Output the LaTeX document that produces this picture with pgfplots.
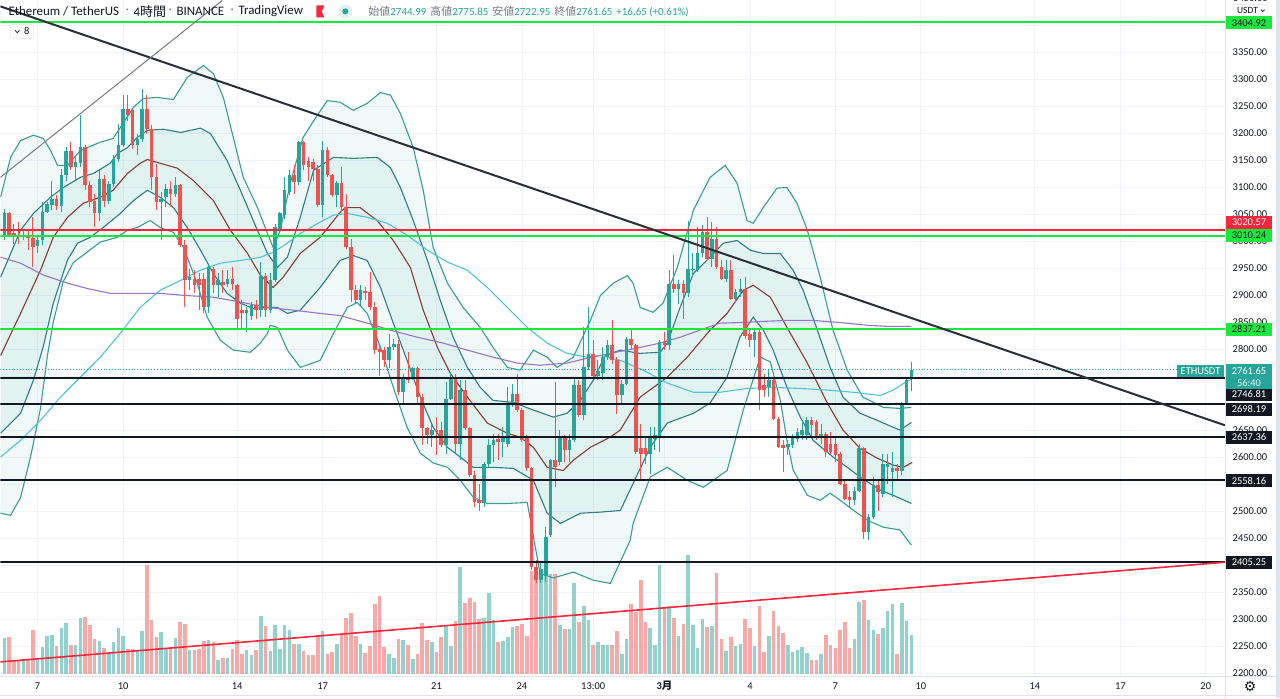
\documentclass[border=0pt]{standalone}
\usepackage{fontspec}
\setmainfont{Carlito}
\newfontfamily\jp{Noto Sans CJK JP}
\newfontfamily\djv{DejaVu Sans}
\usepackage{pgfplots}
\pgfplotsset{compat=1.18}
\usepackage{pgfplotstable}
\usepgfplotslibrary{fillbetween}

\definecolor{upc}{HTML}{26A69A}
\definecolor{dnc}{HTML}{EF5350}
\definecolor{upv}{HTML}{92D2CC}
\definecolor{dnv}{HTML}{F7A9A8}
\definecolor{olc}{HTML}{3A9D96}
\definecolor{ilc}{HTML}{2E7D87}
\definecolor{midc}{HTML}{873B33}
\definecolor{cyanc}{HTML}{4FC3DC}
\definecolor{purc}{HTML}{9575CD}
\definecolor{grn}{HTML}{1AE83F}
\definecolor{redl}{HTML}{F7263B}
\definecolor{blk}{HTML}{131722}
\definecolor{trend}{HTML}{2A2E39}
\definecolor{greyl}{HTML}{787B86}
\definecolor{gridc}{HTML}{F0F3FA}
\definecolor{sepc}{HTML}{E0E3EB}
\definecolor{txt}{HTML}{131722}
\definecolor{lbl}{HTML}{787B86}

% candles: index, open, high, low, close, volume
\pgfplotstableread{
i o h l c v
0 3011 3060 3001 3051 36.7
4 3009 3023 3001 3012 15
7 2990 3007 2977 3001 15.7
8 3001 3072 2992 3054 27
9 3054 3072 3051 3068 38
10 3066 3112 3057 3078 39.7
12 3064 3134 3054 3122 46
13 3122 3174 3112 3167 51.7
15 3138 3156 3112 3146 29
16 3144 3233 3137 3174 56
20 3051 3134 3038 3115 33
22 3075 3112 3069 3106 20.7
23 3106 3159 3100 3152 32.7
24 3152 3217 3146 3177 46
25 3177 3270 3174 3245 38
28 3177 3199 3159 3189 24
29 3189 3282 3183 3245 43
33 3072 3091 3001 3078 42
34 3081 3106 3063 3097 25.7
36 3088 3119 3081 3103 36.7
39 2927 2949 2909 2933 24
43 2878 2958 2866 2952 34
45 2918 2940 2896 2927 14.7
47 2921 2946 2915 2930 16
51 2866 2878 2832 2872 24
52 2862 2887 2853 2881 19
54 2872 2961 2859 2936 58
56 2872 2940 2866 2928 23
57 2927 3032 2924 3026 49
58 3023 3054 3014 3051 25.3
59 3048 3119 3041 3094 49
60 3091 3131 3085 3122 44.7
62 3109 3186 3103 3183 30
67 3066 3186 3044 3168 43
70 3085 3112 3063 3107 30
75 2890 2918 2878 2909 30.7
81 2779 2828 2764 2804 20.7
82 2804 2819 2798 2810 16.7
84 2721 2754 2696 2745 34
86 2745 2767 2742 2764 15.3
90 2640 2662 2619 2651 32
93 2622 2739 2606 2708 48.7
94 2708 2758 2705 2748 28.7
96 2625 2742 2594 2724 107
101 2514 2591 2508 2588 56.3
102 2588 2634 2582 2622 81.3
103 2622 2643 2591 2631 54
105 2628 2656 2600 2637 33.3
106 2625 2730 2619 2696 37.3
107 2696 2736 2693 2717 47.3
113 2372 2405 2366 2393 100.7
114 2380 2471 2369 2452 100.7
115 2455 2597 2452 2594 100.7
117 2590 2650 2585 2637 49
119 2613 2643 2591 2631 45.7
120 2631 2745 2628 2733 91.3
122 2677 2841 2668 2767 68.3
123 2767 2878 2761 2791 54
125 2751 2780 2742 2760 32
126 2755 2804 2742 2785 29
127 2785 2816 2779 2807 29
130 2714 2742 2699 2736 20.7
131 2736 2822 2733 2819 35.3
136 2606 2656 2569 2637 46.7
137 2634 2656 2613 2640 29.3
138 2637 2816 2609 2813 109
140 2807 2946 2798 2921 68
142 2912 2927 2884 2921 38
144 2903 3038 2896 2949 119
145 2946 2977 2933 2949 49
146 2946 3026 2943 2977 26.3
147 2977 3029 2970 3017 55.7
149 2967 3035 2952 3004 48
152 2930 2964 2924 2946 23.3
154 2893 2912 2887 2906 28.7
155 2906 2930 2896 2912 30.7
158 2816 2838 2785 2832 28.7
161 2730 2761 2711 2742 38
165 2619 2631 2603 2625 29
166 2622 2643 2616 2637 22.7
167 2634 2653 2628 2647 24.7
168 2640 2668 2631 2650 27
169 2640 2674 2631 2668 21.3
172 2637 2662 2625 2643 20
179 2520 2545 2511 2538 35
180 2538 2625 2535 2616 72
182 2461 2495 2446 2489 54
183 2489 2563 2486 2548 44.7
185 2532 2606 2526 2588 46
186 2582 2606 2551 2588 63.7
187 2572 2609 2526 2579 70.3
189 2575 2702 2566 2699 71
190 2699 2748 2696 2742 53.3
191 2744.99 2775.85 2722.95 2761.65 39.7
}\candUp

\pgfplotstableread{
i o h l c v
1 3051 3054 3007 3011 37
2 3014 3032 2995 3009 14
3 3012 3035 2995 3009 14
5 3011 3023 2983 3006 14
6 3006 3044 2952 2989 44.7
11 3078 3085 3057 3064 28
14 3167 3183 3131 3138 29
17 3174 3177 3094 3103 57
18 3103 3112 3063 3072 49
19 3075 3088 3026 3051 35.7
21 3115 3122 3063 3075 26
26 3245 3270 3223 3233 25.7
27 3242 3245 3171 3177 25.7
30 3245 3270 3199 3208 109
31 3208 3214 3094 3119 54
32 3119 3143 3057 3072 37
35 3097 3112 3063 3088 27
37 3103 3106 2989 2992 52
38 2992 3001 2878 2927 50
40 2930 2946 2903 2918 24
41 2930 2940 2872 2918 25.7
42 2930 2940 2866 2878 33
44 2949 2952 2903 2918 32
46 2924 2946 2903 2918 16
48 2930 2952 2909 2921 25.7
49 2918 2921 2838 2856 34
50 2872 2890 2838 2866 20
53 2881 2890 2856 2872 24
55 2936 2940 2859 2872 48
61 3122 3140 3088 3109 30.7
63 3183 3186 3131 3140 23
64 3149 3156 3112 3137 19
65 3146 3152 3112 3134 19
66 3134 3140 3063 3066 39.3
68 3168 3174 3119 3122 20
69 3122 3125 3081 3085 22
71 3107 3137 3054 3063 40
72 3063 3088 2986 2989 56.7
73 2989 3004 2887 2909 61.3
74 2909 2918 2884 2890 38.7
76 2907 2915 2890 2903 21.3
77 2906 2943 2872 2878 28
78 2878 2887 2791 2798 70.7
79 2801 2810 2751 2795 78
80 2798 2804 2767 2779 27
83 2810 2816 2714 2721 35
85 2748 2795 2738 2742 29
87 2764 2767 2699 2711 20.7
88 2711 2717 2622 2653 51.7
89 2653 2656 2625 2640 34.7
91 2651 2674 2603 2647 22.3
92 2650 2665 2619 2622 37.3
95 2748 2754 2606 2625 53.3
97 2724 2742 2650 2653 71.7
98 2653 2656 2563 2566 76.7
99 2566 2575 2508 2517 72
100 2520 2551 2501 2514 55.7
104 2634 2643 2594 2628 32.3
108 2717 2754 2684 2687 48
109 2687 2690 2628 2631 50.7
110 2637 2640 2575 2579 38
111 2579 2582 2390 2397 103.3
112 2397 2409 2366 2372 105
116 2594 2739 2545 2582 100
118 2637 2640 2591 2613 45.7
121 2733 2742 2674 2677 52.3
124 2791 2816 2748 2751 29
128 2807 2853 2773 2779 29.3
129 2779 2785 2680 2714 43.3
132 2819 2835 2798 2807 70
133 2807 2810 2606 2609 62
134 2616 2662 2557 2606 94.7
135 2616 2637 2588 2606 52.7
139 2813 2832 2798 2807 67.3
141 2921 2974 2903 2912 56.7
143 2921 2927 2856 2903 50.7
148 3017 3044 2964 2967 47.3
150 3004 3026 2949 2952 101.7
151 2952 2964 2927 2930 35
153 2946 2964 2890 2893 37.3
156 2912 2933 2819 2825 55.7
157 2828 2835 2804 2816 46.7
159 2832 2835 2687 2724 68.3
160 2733 2754 2711 2724 22.3
162 2742 2748 2668 2671 63.7
163 2671 2674 2616 2619 48.3
164 2622 2631 2572 2616 41.3
170 2668 2674 2637 2659 14.7
171 2665 2668 2631 2637 14.7
173 2643 2646 2600 2609 39
174 2625 2646 2606 2609 29.3
175 2625 2637 2591 2603 26.3
176 2606 2609 2548 2551 44.7
177 2551 2557 2520 2523 52.7
178 2526 2538 2508 2520 26.3
181 2616 2619 2449 2461 74
184 2548 2557 2501 2535 40.7
188 2579 2588 2557 2574 20.7
}\candDn

% Bollinger outer upper
\pgfplotstableread{
x y
-0.8 3081
1.3 3155
3.4 3186
6.1 3196
8.2 3190
9.7 3168
11.2 3140
13.3 3140
16.0 3168
20.2 3183
22.9 3190
24.4 3210
27.2 3248
29.3 3264
32.2 3266
35.6 3262
38.5 3303
41.9 3325
44.0 3310
46.1 3266
48.2 3192
50.3 3118
53.3 3062
55.4 3014
56.6 2988
58.1 3020
60.2 3107
62.9 3192
65.9 3233
68.0 3260
70.7 3257
73.5 3242
76.4 3255
79.2 3275
81.3 3270
83.4 3236
86.1 3173
88.2 3094
90.3 2988
93.3 2922
96.6 2877
100.2 2840
102.9 2803
105.9 2766
108.6 2761
111.4 2798
114.3 2785
116.4 2766
119.8 2785
123.4 2853
125.5 2899
128.2 2922
131.2 2936
132.4 2922
133.9 2877
136.6 2868
138.7 2885
141.7 2951
145.1 3057
148.6 3118
151.8 3140
154.3 3107
156.4 3038
157.7 3033
159.8 3062
162.7 3098
164.8 3099
166.9 3070
169.1 3020
171.8 2933
174.5 2835
177.5 2761
180.8 2711
185.1 2692
188.6 2690
191.0 2692
}\tOU

% inner upper
\pgfplotstableread{
x y
-0.8 2933
3.4 3020
6.1 3051
9.7 3081
12.4 3099
16.0 3118
18.7 3125
22.3 3144
23.8 3162
25.9 3173
28.0 3192
30.1 3205
33.5 3207
37.1 3201
41.3 3209
43.4 3199
46.9 3149
49.7 3094
52.4 3038
55.4 2977
57.5 2951
59.6 2970
62.3 3044
65.1 3131
69.3 3155
73.5 3153
78.5 3155
81.3 3136
83.4 3099
86.1 3038
89.1 2964
91.8 2890
94.5 2822
97.5 2766
100.2 2729
102.9 2705
107.2 2701
111.4 2687
115.6 2674
118.5 2681
121.3 2705
124.0 2742
126.5 2788
129.7 2798
133.9 2792
138.1 2794
139.6 2811
142.3 2877
145.1 2940
148.6 2970
151.4 2996
154.3 3001
157.1 2983
159.8 2977
163.4 2977
166.1 2946
168.2 2909
171.2 2835
173.9 2766
176.6 2711
180.2 2681
183.8 2668
187.2 2655
188.6 2650
191.0 2664
}\tIU

% middle line
\pgfplotstableread{
x y
-0.8 2788
3.4 2866
7.6 2946
10.3 3007
13.3 3044
16.6 3070
20.2 3081
22.9 3094
25.9 3125
28.6 3144
30.1 3151
32.8 3144
36.4 3135
39.8 3112
44.0 3075
47.6 3020
51.2 2977
53.9 2937
56.6 2914
58.7 2933
62.3 2977
66.5 3007
70.7 3053
71.8 3062
74.9 3062
78.5 3038
81.9 3001
85.5 2951
88.2 2872
91.2 2803
93.9 2755
97.5 2711
101.7 2663
105.9 2644
108.6 2637
111.4 2618
114.3 2581
117.7 2575
119.8 2594
123.4 2618
127.6 2637
129.7 2650
133.9 2711
139.6 2748
143.8 2785
148.6 2835
152.2 2866
155.6 2909
157.7 2918
161.3 2896
164.8 2840
169.1 2774
173.3 2700
176.6 2650
180.2 2616
183.8 2598
187.2 2585
189.3 2581
191.2 2590
}\tMID

% inner lower
\pgfplotstableread{
x y
-0.8 2644
3.4 2681
6.1 2742
8.2 2805
10.3 2885
13.3 2965
15.4 2996
18.1 3007
20.8 3025
24.4 3051
27.2 3075
30.1 3094
32.8 3081
35.6 3062
38.5 3025
41.3 2983
44.0 2940
46.9 2903
49.7 2885
52.4 2875
55.4 2877
57.5 2877
59.6 2866
62.3 2872
66.5 2914
70.7 2964
73.5 2973
76.4 2964
79.2 2914
81.9 2848
84.8 2779
87.6 2711
90.3 2655
93.3 2618
96.0 2600
98.7 2581
102.9 2581
107.2 2579
111.4 2557
114.3 2496
117.1 2477
121.3 2496
125.5 2498
129.7 2501
132.4 2551
136.0 2618
139.6 2663
145.1 2681
148.6 2700
152.2 2748
154.9 2822
157.7 2859
159.8 2835
161.9 2798
164.8 2729
167.6 2674
170.3 2631
174.5 2600
177.5 2581
180.2 2563
184.4 2539
188.0 2526
191.0 2514
}\tIL

% outer lower
\pgfplotstableread{
x y
-0.8 2496
1.3 2492
3.4 2525
5.5 2600
7.6 2690
9.1 2790
10.3 2850
12.4 2925
14.5 2960
17.5 2980
20.2 2998
23.8 3007
25.9 3020
28.0 3025
30.7 3038
32.8 3025
35.6 3016
37.7 2988
40.6 2922
42.7 2859
45.5 2816
48.2 2798
51.8 2794
53.9 2811
55.4 2829
56.0 2844
57.5 2840
59.6 2798
62.3 2766
66.5 2779
69.3 2829
72.2 2877
74.3 2886
76.4 2866
79.2 2803
81.9 2729
84.8 2655
87.6 2607
90.3 2589
93.3 2581
96.0 2557
98.7 2526
101.7 2514
105.9 2514
110.1 2516
112.8 2385
115.6 2376
119.8 2387
124.0 2372
127.6 2366
131.8 2446
132.4 2477
136.0 2563
139.6 2581
143.8 2557
147.2 2544
152.2 2575
155.6 2687
159.2 2785
161.3 2776
163.4 2705
164.8 2631
166.1 2576
169.1 2529
171.8 2520
173.9 2533
176.0 2520
178.7 2502
181.7 2483
185.1 2470
188.6 2465
191.0 2437
}\tOL

% cyan moving average
\pgfplotstableread{
x y
-0.8 2600
3.4 2631
7.6 2668
11.8 2711
16.0 2748
20.2 2785
24.4 2829
28.6 2877
32.8 2909
37.1 2927
41.3 2946
45.5 2959
49.7 2964
53.9 2970
56.6 2979
59.6 2996
62.3 3014
66.5 3035
69.3 3048
72.2 3051
76.4 3044
80.6 3033
84.8 3011
89.1 2983
93.3 2961
97.5 2946
101.7 2914
105.9 2877
110.1 2840
114.3 2811
118.5 2792
122.7 2785
125.5 2788
129.7 2779
134.5 2761
139.6 2737
145.1 2720
150.7 2720
156.4 2727
161.9 2729
167.6 2727
173.3 2724
178.7 2720
184.4 2714
187.2 2724
190.0 2740
191.0 2744
}\tC

% purple moving average
\pgfplotstableread{
x y
-0.8 2970
3.4 2959
8.2 2937
13.3 2922
17.5 2912
22.3 2903
32.8 2903
38.5 2899
44.0 2896
49.7 2887
55.4 2877
60.8 2872
66.5 2866
70.7 2862
76.4 2848
81.3 2835
86.9 2822
92.4 2811
97.5 2798
102.9 2785
108.0 2774
112.8 2770
118.5 2774
122.7 2783
127.6 2792
133.9 2803
138.1 2811
142.3 2822
146.5 2835
150.7 2848
155.0 2849
159.2 2851
164.8 2853
170.3 2853
176.0 2849
181.7 2844
185.9 2842
191.0 2842
}\tP

\newcommand\pbox[4]{%
  \fill[#2] (1226,{698-#1-6.5}) rectangle (1272,{698-#1+6.5});
  \node[text=#3, font=\fontsize{10.5}{12}\selectfont, inner sep=0pt] at (1249,{698-#1}) {#4};}

\begin{document}
\begin{tikzpicture}[x=1bp,y=1bp]

\begin{axis}[name=P, scale only axis, width=1225bp, height=676bp,
  xmin=-0.8421, xmax=257.0526, ymin=2194.2, ymax=3445.6,
  clip bounding box=upper bound,
  axis line style={draw=none}, tick style={draw=none},
  xtick={7,25,49,67,91,109,124,139,157,175,193,217,235,253},
  xticklabels={7,10,14,17,21,24,13:00,{\bfseries 3\jp 月},4,7,10,14,17,20},
  ytick={2200,2250,2300,2350,2450,2500,2600,2650,2800,2850,2900,2950,3000,3050,3100,3150,3200,3250,3300,3350},
  extra y ticks={2400,2550,2700,2750,3400},
  extra y tick style={grid=major, yticklabel={}},
  grid=major, major grid style={draw=gridc, line width=0.8bp},
  yticklabel pos=right,
  yticklabel style={anchor=west, inner sep=0pt, xshift=7.5bp, font=\fontsize{10.5}{12}\selectfont, text=txt},
  xticklabel style={anchor=center, inner sep=0pt, yshift=-10bp, font=\fontsize{10.5}{12}\selectfont, text=txt},
  yticklabel={\pgfmathprintnumber[fixed, fixed zerofill, precision=2, 1000 sep={}, assume math mode=true]{\tick}},
]
% volume bars in the bottom band (1 volume unit drawn as 1 px above the baseline)
\addplot[draw=none, mark=none, forget plot, error bars/.cd, y dir=both, y explicit, error mark=none,
  error bar style={draw=upv, line width=3.6bp}]
  table[x=i, y expr={2197.9+0.9256*\thisrow{v}}, y error expr={0.9256*\thisrow{v}}]{\candUp};
\addplot[draw=none, mark=none, forget plot, error bars/.cd, y dir=both, y explicit, error mark=none,
  error bar style={draw=dnv, line width=3.6bp}]
  table[x=i, y expr={2197.9+0.9256*\thisrow{v}}, y error expr={0.9256*\thisrow{v}}]{\candDn};

% Bollinger fills
\addplot[draw=none, name path=ou, forget plot] table{\tOU};
\addplot[draw=none, name path=ol, forget plot] table{\tOL};
\addplot[draw=none, name path=iu, forget plot] table{\tIU};
\addplot[draw=none, name path=il, forget plot] table{\tIL};
\addplot[fill=upc, fill opacity=0.07, draw=none] fill between[of=ou and ol];
\addplot[fill=upc, fill opacity=0.07, draw=none] fill between[of=iu and il];

\addplot[olc, line width=1.1bp] table{\tOU};
\addplot[olc, line width=1.1bp] table{\tOL};
\addplot[ilc, line width=1.1bp] table{\tIU};
\addplot[ilc, line width=1.1bp] table{\tIL};
\addplot[midc, line width=1.1bp] table{\tMID};
\addplot[cyanc, line width=1.1bp] table{\tC};
\addplot[purc, line width=1.1bp] table{\tP};

% candles: wicks
\addplot[draw=none, mark=none, error bars/.cd, y dir=both, y explicit, error mark=none,
  error bar style={draw=upc, line width=1bp}]
  table[x=i, y expr={(\thisrow{h}+\thisrow{l})/2}, y error expr={(\thisrow{h}-\thisrow{l})/2}]{\candUp};
\addplot[draw=none, mark=none, error bars/.cd, y dir=both, y explicit, error mark=none,
  error bar style={draw=dnc, line width=1bp}]
  table[x=i, y expr={(\thisrow{h}+\thisrow{l})/2}, y error expr={(\thisrow{h}-\thisrow{l})/2}]{\candDn};
% candles: bodies
\addplot[draw=none, mark=none, error bars/.cd, y dir=both, y explicit, error mark=none,
  error bar style={draw=upc, line width=3.6bp}]
  table[x=i, y expr={(\thisrow{o}+\thisrow{c})/2}, y error expr={max(abs(\thisrow{o}-\thisrow{c})/2,0.8)}]{\candUp};
\addplot[draw=none, mark=none, error bars/.cd, y dir=both, y explicit, error mark=none,
  error bar style={draw=dnc, line width=3.6bp}]
  table[x=i, y expr={(\thisrow{o}+\thisrow{c})/2}, y error expr={max(abs(\thisrow{o}-\thisrow{c})/2,0.8)}]{\candDn};

% horizontal levels
\addplot[upc, dotted, line width=0.8bp] coordinates {(-0.84,2761.65) (246.9,2761.65)};
\addplot[grn, line width=2bp] coordinates {(-0.84,3404.92) (257.05,3404.92)};
\addplot[grn, line width=2bp] coordinates {(-0.84,3010.24) (257.05,3010.24)};
\addplot[grn, line width=2bp] coordinates {(-0.84,2837.21) (257.05,2837.21)};
\addplot[redl, line width=2bp] coordinates {(-0.84,3020.57) (257.05,3020.57)};
\addplot[blk, line width=2bp] coordinates {(-0.84,2746.81) (257.05,2746.81)};
\addplot[blk, line width=2bp] coordinates {(-0.84,2698.19) (257.05,2698.19)};
\addplot[blk, line width=2bp] coordinates {(-0.84,2637.36) (257.05,2637.36)};
\addplot[blk, line width=2bp] coordinates {(-0.84,2558.16) (257.05,2558.16)};
\addplot[blk, line width=2bp] coordinates {(-0.84,2405.25) (257.05,2405.25)};
% trend lines
\addplot[trend, line width=2bp] coordinates {(-0.84,3434.5) (257.05,2658.8)};
\addplot[greyl, line width=1bp] coordinates {(-0.84,3117.9) (45.9,3445.6)};
\addplot[redl, line width=1.6bp] coordinates {(-0.84,2220.7) (257.05,2405.25)};
\end{axis}

\begin{scope}[shift={(P.south west)}, yshift=-22bp]
\path (0,0) rectangle (1280,698);
% frame pieces
\fill[sepc] (1225,0) rectangle (1226,698);
\fill[sepc] (0,21) rectangle (1280,21.8);
\fill[sepc] (0,2) rectangle (1280,3);
\fill[sepc] (1276,0) rectangle (1280,698);

% top cut label and currency button
\node[overlay, anchor=west, inner sep=0pt, font=\fontsize{10.5}{12}\selectfont, text=txt] at (1233,{698+2.4}) {3450.00};
\filldraw[draw=sepc, fill=white, rounded corners=2bp] (1234,{698-4}) rectangle (1268,{698-16.5});
\node[font=\fontsize{9.5}{11}\selectfont, text=txt, inner sep=0pt] at (1247.5,{698-10.3}) {USDT};
\draw[txt, line width=0.7bp] (1261,{698-9.3}) -- (1262.8,{698-11.1}) -- (1264.6,{698-9.3});

% price labels
\pbox{22.5}{grn}{txt}{3404.92}
\pbox{222}{redl}{white}{3020.57}
\pbox{235}{grn}{txt}{3010.24}
\pbox{329}{grn}{txt}{2837.21}
\pbox{394}{blk}{white}{2746.81}
\pbox{409}{blk}{white}{2698.19}
\pbox{437}{blk}{white}{2637.36}
\pbox{480.5}{blk}{white}{2558.16}
\pbox{562}{blk}{white}{2405.25}
\fill[upc] (1177,{698-365}) rectangle (1224,{698-377});
\node[text=white, font=\fontsize{10.5}{12}\selectfont, inner sep=0pt] at (1200.5,{698-371}) {ETHUSDT};
\fill[upc] (1226,{698-364}) rectangle (1272,{698-388.5});
\node[text=white, font=\fontsize{10.5}{12}\selectfont, inner sep=0pt] at (1249,{698-370.5}) {2761.65};
\node[text=white!88!upc, font=\fontsize{10.5}{12}\selectfont, inner sep=0pt] at (1249,{698-382.5}) {56:40};

% header
\node[anchor=west, inner sep=0pt, font=\fontsize{13}{15}\selectfont, text=txt] at (8,{698-11}) {Ethereum / TetherUS};
\node[inner sep=0pt, font=\fontsize{13}{15}\selectfont, text=lbl] at (127,{698-11}) {·};
\node[anchor=west, inner sep=0pt, font=\fontsize{13}{15}\selectfont, text=txt] at (133,{698-11}) {4{\jp 時間}};
\node[inner sep=0pt, font=\fontsize{13}{15}\selectfont, text=lbl] at (170,{698-11}) {·};
\node[anchor=west, inner sep=0pt, font=\fontsize{13}{15}\selectfont, text=txt] at (176,{698-11}) {BINANCE};
\node[inner sep=0pt, font=\fontsize{13}{15}\selectfont, text=lbl] at (232,{698-11}) {·};
\node[anchor=west, inner sep=0pt, font=\fontsize{13}{15}\selectfont, text=txt] at (238,{698-11}) {TradingView};
\fill[redl] (316,{698-5}) -- (324,{698-5}) -- (321.5,{698-11}) -- (324,{698-17}) -- (316,{698-17}) -- cycle;
\fill[upc!15] (345,{698-11}) circle (7);
\fill[upc] (345,{698-11}) circle (3);
\node[anchor=west, inner sep=0pt, font=\fontsize{11}{13}\selectfont] at (368,{698-11})
  {\textcolor{lbl}{\jp 始値}\textcolor{upc}{2744.99}\hspace{4bp}\textcolor{lbl}{\jp 高値}\textcolor{upc}{2775.85}\hspace{4bp}\textcolor{lbl}{\jp 安値}\textcolor{upc}{2722.95}\hspace{4bp}\textcolor{lbl}{\jp 終値}\textcolor{upc}{2761.65}\hspace{4bp}\textcolor{upc}{+16.65 (+0.61\%)}};

% indicator toggle
\filldraw[draw=sepc, fill=white, rounded corners=2bp] (10,{698-24}) rectangle (33,{698-38});
\draw[txt, line width=0.7bp] (14.5,{698-30}) -- (16.8,{698-32.3}) -- (19.1,{698-30});
\node[inner sep=0pt, font=\fontsize{10.5}{12}\selectfont, text=txt] at (26.5,{698-31}) {8};

% settings gear
\node[inner sep=0pt, font=\djv\fontsize{14}{14}\selectfont, text=txt] at (1250,{698-686}) {⚙};
\end{scope}
\end{tikzpicture}
\end{document}
